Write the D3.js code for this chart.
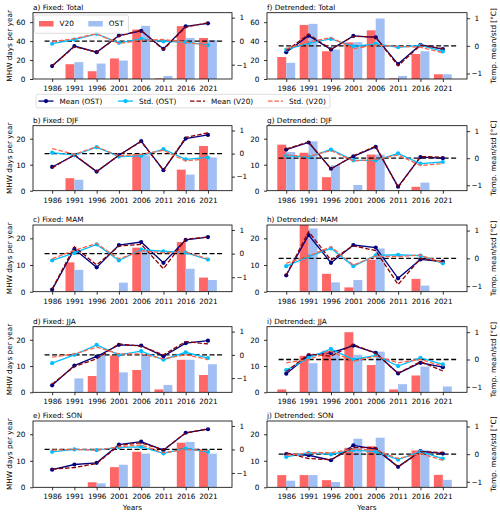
<!DOCTYPE html>
<html>
<head>
<meta charset="utf-8">
<script src="https://cdn.jsdelivr.net/npm/d3@7"></script>
<style>
  body { margin: 0; background: #fff; }
  svg { display: block; font-family: "DejaVu Sans", sans-serif; }
</style>
</head>
<body>
<svg id="chart" width="500" height="516"></svg>
<script>
// data, one row per panel a..j
const years = [1986, 1991, 1996, 2001, 2006, 2011, 2016, 2021]
const titles = [
  "a) Fixed: Total", "b) Fixed: DJF", "c) Fixed: MAM", "d) Fixed: JJA", "e) Fixed: SON",
  "f) Detrended: Total", "g) Detrended: DJF", "h) Detrended: MAM", "i) Detrended: JJA", "j) Detrended: SON"
]
const leftTicksTotal = [0, 20, 40, 60]
const leftTicksSeason = [0, 10, 20]
const rightTicks = [-1, 0, 1]

const barsV20 = [
  [0, 15.6, 8.2, 21.7, 52.2, 0.7, 55.8, 43.3],
  [0, 4.8, 0, 0, 13.9, 0, 8.1, 17.2],
  [0, 11, 0, 0, 16.5, 0, 18.6, 5.3],
  [0, 0, 6.2, 14, 8.5, 1.1, 12.4, 6.6],
  [0, 0, 1.9, 7.6, 13.4, 0, 16.8, 14.3],
  [23.2, 57.1, 29.3, 38.6, 51.4, 0.7, 26.4, 5],
  [17.7, 14.6, 5.2, 0, 13.9, 0, 1.5, 0],
  [0, 26, 6.7, 1.6, 12, 0, 4.8, 0],
  [1.1, 13.9, 15.8, 22.9, 10.4, 1.1, 6.4, 0],
  [4.6, 4.6, 2.7, 14.9, 15.5, 0, 13.9, 4.7]
]
const barsOST = [
  [0, 17.8, 16.3, 19.5, 56.1, 3.2, 43.3, 40.9],
  [0, 4.2, 0, 0, 13.6, 0, 6.2, 12.8],
  [0, 8.2, 0, 3.4, 15.5, 0, 8.6, 4.4],
  [0, 5.3, 14.3, 7.6, 14.5, 2.8, 12.4, 10.7],
  [0, 0, 1.5, 8.5, 12.7, 0, 17.1, 12.7],
  [17.1, 58.2, 31.1, 38.9, 63.9, 3.2, 29.3, 5],
  [14.9, 19, 9.8, 2.2, 13.9, 0, 3.1, 0],
  [0, 23.7, 3.5, 4.4, 16.2, 0, 2.3, 0],
  [0, 11.1, 16.2, 14.3, 15.5, 3.1, 9.8, 2.2],
  [2.5, 4.6, 2.0, 18.3, 18.7, 0, 13.9, 2.8]
]
const meanOST = [
  [-1.06, -0.21, -0.47, 0.24, 0.44, -0.33, 0.63, 0.76],
  [-0.58, -0.07, -0.78, -0.07, 0.54, -0.72, 0.65, 0.81],
  [-1.52, 0.19, -0.58, 0.36, 0.49, -0.39, 0.58, 0.7],
  [-1.31, -0.46, -0.07, 0.43, 0.4, -0.06, 0.5, 0.61],
  [-0.86, -0.64, -0.57, 0.21, 0.33, -0.03, 0.71, 0.86],
  [-0.23, 0.37, -0.13, 0.36, 0.31, -0.66, 0.04, -0.12],
  [0.32, 0.58, -0.39, 0.07, 0.42, -1.05, 0.04, 0],
  [-0.61, 0.84, -0.16, 0.48, 0.39, -0.72, -0.04, -0.12],
  [-0.52, 0.15, 0.24, 0.51, 0.24, -0.51, -0.12, -0.28],
  [0, -0.04, -0.22, 0.32, 0.18, -0.46, 0.11, 0.02]
]
const stdOST = [
  [-0.11, 0.07, 0.31, -0.07, 0.1, -0.01, -0.04, -0.17],
  [0.04, -0.07, 0.28, -0.13, -0.1, 0.19, -0.25, -0.17],
  [-0.29, 0.03, 0.39, -0.29, 0.17, 0.1, 0.04, -0.25],
  [-0.36, 0, 0.43, 0, 0.16, -0.21, 0.11, -0.14],
  [-0.1, 0, -0.03, 0.09, 0.11, -0.17, 0.04, -0.1],
  [-0.14, 0.1, 0.25, -0.02, 0.07, -0.05, 0.02, -0.2],
  [0.1, 0.04, 0.32, -0.08, -0.08, 0.18, -0.2, -0.14],
  [-0.28, 0.06, 0.36, -0.28, 0.11, 0.13, 0.1, -0.18],
  [-0.39, 0.06, 0.39, 0, 0.15, -0.24, 0.06, -0.18],
  [-0.1, 0.05, -0.01, 0.15, 0.09, -0.2, 0.09, -0.16]
]
const meanV20 = [
  [-1.06, -0.23, -0.47, 0.22, 0.46, -0.36, 0.6, 0.78],
  [-0.62, -0.05, -0.78, -0.07, 0.52, -0.72, 0.7, 0.9],
  [-1.5, 0.29, -0.48, 0.32, 0.39, -0.64, 0.61, 0.7],
  [-1.25, -0.5, -0.17, 0.47, 0.37, 0, 0.57, 0.47],
  [-0.84, -0.77, -0.6, 0.17, 0.28, -0.02, 0.7, 0.88],
  [-0.18, 0.42, -0.12, 0.35, 0.31, -0.72, 0.02, -0.1],
  [0.34, 0.6, -0.4, 0.09, 0.44, -1.08, 0.06, 0.04],
  [-0.6, 0.96, -0.06, 0.45, 0.28, -0.94, 0, -0.12],
  [-0.45, 0.2, 0.12, 0.55, 0.22, -0.5, -0.08, -0.42],
  [0.05, -0.16, -0.2, 0.24, 0.23, -0.46, 0.09, 0.06]
]
const stdV20 = [
  [-0.03, 0.11, 0.31, -0.1, 0.04, 0.07, -0.04, -0.19],
  [0.22, -0.03, 0.3, -0.1, -0.03, 0.14, -0.32, -0.22],
  [-0.22, 0.14, 0.43, -0.22, 0.12, 0.04, 0.07, -0.22],
  [-0.1, 0.04, 0.33, 0.04, 0.04, -0.17, 0, -0.2],
  [-0.03, 0, -0.03, 0.11, 0.19, -0.14, 0, -0.06],
  [-0.1, 0.14, 0.3, -0.1, 0.03, -0.02, -0.05, -0.25],
  [0.12, 0.07, 0.28, -0.1, -0.05, 0.12, -0.27, -0.2],
  [-0.18, 0.08, 0.42, -0.24, 0.08, 0.06, 0.12, -0.16],
  [-0.12, 0, 0.3, -0.06, 0.12, -0.12, 0, -0.24],
  [-0.04, 0.05, 0.05, 0.18, 0.15, -0.16, 0.02, -0.22]
]

const FS = 7.3
const RED = "#ff6666"
const BLUE = "#a2bff4"
const minus = d => d < 0 ? "\u2212" + Math.abs(d) : String(d)

const svg = d3.select("#chart")

// panel boxes
const colX = [[33, 232], [267, 467]]
const rowY = [[12.7, 79], [125.7, 190.7], [225, 291.7], [326.7, 392.3], [421, 487.3]]

const lineSeries = [
  { data: meanOST, color: "#000080", dash: null, dots: true },
  { data: stdOST, color: "#00bfff", dash: null, dots: true },
  { data: meanV20, color: "#8b0000", dash: "4.5,2", dots: false },
  { data: stdV20, color: "#ff6347", dash: "4.5,2", dots: false }
]

titles.forEach((title, i) => {
  const col = i < 5 ? 0 : 1
  const row = i % 5
  const [x0, x1] = colX[col]
  const [top, bottom] = rowY[row]

  const x = d3.scaleLinear().domain([1981.7, 2026.4]).range([x0, x1])
  const yL = d3.scaleLinear().domain([0, row === 0 ? 70 : 25]).range([bottom, top])
  const yR = d3.scaleLinear().domain(col === 0 ? [-1.61, 1.21] : [-1.2, 1.2]).range([bottom, top])

  const g = svg.append("g")

  const clipId = "clip" + i
  g.append("clipPath").attr("id", clipId)
    .append("rect").attr("x", x0).attr("y", top).attr("width", x1 - x0).attr("height", bottom - top)

  const plot = g.append("g").attr("clip-path", `url(#${clipId})`)

  // bars: V20 left of the tick, OST right of it
  const barW = x(2) - x(0)
  plot.selectAll(".v20").data(years).enter().append("rect")
    .attr("x", d => x(d - 2))
    .attr("width", barW)
    .attr("y", (d, k) => yL(barsV20[i][k]))
    .attr("height", (d, k) => yL(0) - yL(barsV20[i][k]))
    .attr("fill", RED)
  plot.selectAll(".ost").data(years).enter().append("rect")
    .attr("x", d => x(d))
    .attr("width", barW)
    .attr("y", (d, k) => yL(barsOST[i][k]))
    .attr("height", (d, k) => yL(0) - yL(barsOST[i][k]))
    .attr("fill", BLUE)

  // zero reference
  plot.append("line")
    .attr("x1", x(1984.3)).attr("x2", x(2024.5))
    .attr("y1", yR(0)).attr("y2", yR(0))
    .attr("stroke", "#000").attr("stroke-width", 1.3).attr("stroke-dasharray", "5,2.5")

  const line = d3.line().x((d, k) => x(years[k])).y(d => yR(d))
  lineSeries.forEach(s => {
    plot.append("path")
      .attr("d", line(s.data[i]))
      .attr("fill", "none")
      .attr("stroke", s.color)
      .attr("stroke-width", 1.3)
      .attr("stroke-dasharray", s.dash)
    if (s.dots) {
      plot.selectAll(null).data(s.data[i]).enter().append("circle")
        .attr("cx", (d, k) => x(years[k]))
        .attr("cy", d => yR(d))
        .attr("r", 2.1)
        .attr("fill", s.color)
    }
  })

  // axes
  const ax = g.append("g").attr("transform", `translate(0,${bottom})`)
    .call(d3.axisBottom(x).tickValues(years).tickFormat(d3.format("d")).tickSize(3).tickPadding(4))
  const ayL = g.append("g").attr("transform", `translate(${x0},0)`)
    .call(d3.axisLeft(yL).tickValues(row === 0 ? leftTicksTotal : leftTicksSeason).tickSize(3).tickPadding(4.5))
  const ayR = g.append("g").attr("transform", `translate(${x1},0)`)
    .call(d3.axisRight(yR).tickValues(rightTicks).tickFormat(minus).tickSize(3).tickPadding(2))
  ayR.selectAll("text").attr("text-anchor", "middle").attr("x", 9.8)

  ;[ax, ayL, ayR].forEach(a => {
    a.select(".domain").remove()
    a.selectAll("line").attr("stroke", "#000").attr("stroke-width", 0.8)
    a.selectAll("text").attr("fill", "#000").style("font-size", FS + "px")
      .style("font-family", "DejaVu Sans, sans-serif")
  })

  g.append("rect")
    .attr("x", x0).attr("y", top).attr("width", x1 - x0).attr("height", bottom - top)
    .attr("fill", "none").attr("stroke", "#000").attr("stroke-width", 0.8)

  g.append("text")
    .attr("x", x0).attr("y", top - 3)
    .style("font-size", FS + "px")
    .text(title)

  const midY = (top + bottom) / 2
  if (col === 0) {
    g.append("text")
      .attr("transform", `translate(9.5,${midY}) rotate(-90)`)
      .attr("text-anchor", "middle").attr("dy", "0.35em")
      .style("font-size", FS + "px")
      .text("MHW days per year")
  } else {
    g.append("text")
      .attr("transform", `translate(493,${midY}) rotate(-90)`)
      .attr("text-anchor", "middle").attr("dy", "0.35em")
      .style("font-size", FS + "px")
      .text("Temp. mean/std [°C]")
  }

  if (row === 4) {
    g.append("text")
      .attr("x", (x0 + x1) / 2).attr("y", 510)
      .attr("text-anchor", "middle")
      .style("font-size", FS + "px")
      .text("Years")
  }
})

// bar legend inside panel a
const lg1 = svg.append("g")
lg1.append("rect")
  .attr("x", 34.5).attr("y", 15).attr("width", 94).attr("height", 18.3).attr("rx", 2)
  .attr("fill", "#fff").attr("fill-opacity", 0.8).attr("stroke", "#d6d6d6").attr("stroke-width", 0.8)
;[["V20", RED, 39], ["OST", BLUE, 88.3]].forEach(([label, color, lx]) => {
  lg1.append("rect").attr("x", lx).attr("y", 21).attr("width", 14.5).attr("height", 5.5).attr("fill", color)
  lg1.append("text").attr("x", lx + 20.5).attr("y", 23.8).attr("dy", "0.35em")
    .style("font-size", FS + "px").text(label)
})

// line legend below panel a
const lg2 = svg.append("g")
lg2.append("rect")
  .attr("x", 36).attr("y", 94.3).attr("width", 294).attr("height", 13.6).attr("rx", 2)
  .attr("fill", "#fff").attr("fill-opacity", 0.8).attr("stroke", "#d6d6d6").attr("stroke-width", 0.8)
const legendItems = [
  { label: "Mean (OST)", s: lineSeries[0], hx: 38.5 },
  { label: "Std. (OST)", s: lineSeries[1], hx: 118 },
  { label: "Mean (V20)", s: lineSeries[2], hx: 190 },
  { label: "Std. (V20)", s: lineSeries[3], hx: 268 }
]
const ly = 101.1
legendItems.forEach(it => {
  lg2.append("line")
    .attr("x1", it.hx).attr("x2", it.hx + 15).attr("y1", ly).attr("y2", ly)
    .attr("stroke", it.s.color).attr("stroke-width", 1.3).attr("stroke-dasharray", it.s.dash)
  if (it.s.dots) {
    lg2.append("circle").attr("cx", it.hx + 7.5).attr("cy", ly).attr("r", 2.1).attr("fill", it.s.color)
  }
  lg2.append("text").attr("x", it.hx + 21).attr("y", ly).attr("dy", "0.35em")
    .style("font-size", FS + "px").text(it.label)
})
</script>
</body>
</html>
